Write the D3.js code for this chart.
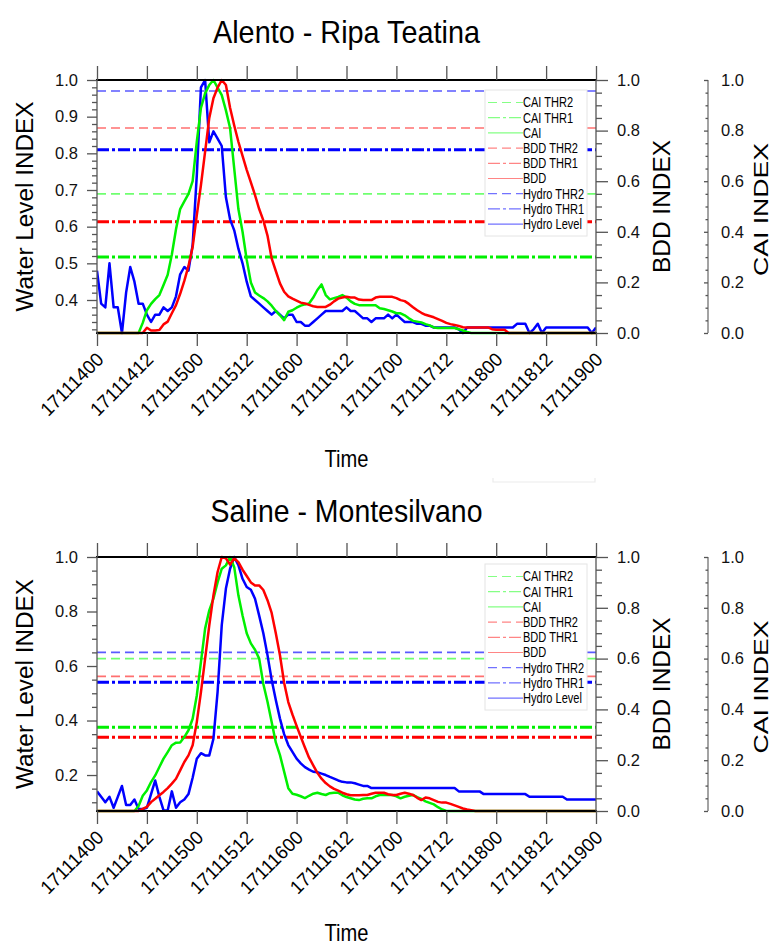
<!DOCTYPE html>
<html><head><meta charset="utf-8">
<script src="https://cdn.jsdelivr.net/npm/d3@7"></script>
<style>html,body{margin:0;padding:0;background:#fff;} svg{display:block;font-family:"Liberation Sans",Arial,Helvetica,sans-serif;}</style>
</head><body><svg id="c" width="772" height="947"></svg>
<script>
// ---------------- DATA ----------------
// hourly samples, hour 0 = 17111400 (YYMMDDHH), hour 120 = 17111900
const hours = d3.range(0, 121);
const xTickHours = [0, 12, 24, 36, 48, 60, 72, 84, 96, 108, 120];
const xTickLabels = ["17111400","17111412","17111500","17111512","17111600","17111612","17111700","17111712","17111800","17111812","17111900"];

const legendLabels = ["CAI THR2","CAI THR1","CAI","BDD THR2","BDD THR1","BDD","Hydro THR2","Hydro THR1","Hydro Level"];

// Alento - Ripa Teatina
const alentoHydro = [
 0.48,0.39,0.38,0.50,0.38,0.38,0.31,0.42,0.49,0.45,
 0.39,0.39,0.36,0.34,0.36,0.36,0.38,0.37,0.38,0.41,
 0.47,0.49,0.48,0.55,0.74,0.98,1.00,0.83,0.86,0.84,
 0.82,0.68,0.62,0.59,0.54,0.50,0.45,0.41,0.40,0.39,
 0.38,0.37,0.36,0.37,0.36,0.35,0.36,0.36,0.34,0.34,
 0.33,0.33,0.34,0.35,0.36,0.37,0.37,0.37,0.37,0.37,
 0.38,0.37,0.37,0.36,0.35,0.35,0.34,0.35,0.35,0.35,
 0.36,0.35,0.36,0.35,0.34,0.34,0.34,0.335,0.335,0.33,
 0.33,0.325,0.325,0.325,0.325,0.325,0.325,0.32,0.31,0.325,
 0.325,0.325,0.325,0.325,0.325,0.325,0.325,0.325,0.325,0.325,
 0.325,0.335,0.335,0.335,0.31,0.32,0.335,0.31,0.325,0.325,
 0.325,0.325,0.325,0.325,0.325,0.325,0.325,0.325,0.325,0.31,
 0.325];
const alentoBDD = [
 0,0,0,0,0,0,0,0,0,0,
 0,0,0.021,0.01,0.01,0.012,0.034,0.045,0.078,0.11,
 0.155,0.206,0.265,0.34,0.466,0.585,0.717,0.85,0.928,0.97,
 1.0,0.98,0.89,0.82,0.756,0.70,0.645,0.595,0.545,0.49,
 0.445,0.385,0.295,0.245,0.196,0.163,0.145,0.136,0.128,0.12,
 0.117,0.111,0.106,0.103,0.103,0.103,0.112,0.125,0.136,0.14,
 0.143,0.14,0.14,0.132,0.13,0.13,0.13,0.14,0.143,0.143,
 0.143,0.143,0.138,0.13,0.126,0.115,0.102,0.09,0.08,0.072,
 0.067,0.062,0.055,0.048,0.04,0.035,0.032,0.028,0.023,0.022,
 0.022,0.022,0.022,0.022,0.022,0.015,0.013,0.013,0.013,0,
 0,0,0,0,0,0,0,0,0,0,
 0,0,0,0,0,0,0,0,0,0,
 0];
const alentoCAI = [
 0,0,0,0,0,0,0,0,0,0,
 0,0.04,0.09,0.115,0.134,0.15,0.19,0.23,0.31,0.41,
 0.49,0.52,0.55,0.60,0.756,0.89,0.947,0.98,1.00,0.97,
 0.94,0.88,0.81,0.65,0.49,0.40,0.29,0.20,0.16,0.148,
 0.138,0.125,0.108,0.087,0.07,0.051,0.084,0.09,0.10,0.108,
 0.113,0.117,0.14,0.17,0.192,0.15,0.133,0.138,0.143,0.15,
 0.14,0.125,0.115,0.11,0.11,0.11,0.11,0.11,0.098,0.095,
 0.09,0.085,0.078,0.078,0.07,0.058,0.048,0.045,0.042,0.035,
 0.03,0.022,0.02,0.02,0.02,0.02,0.02,0.015,0.01,0.004,
 0,0,0,0,0,0,0,0,0,0,
 0,0,0,0,0,0,0,0,0,0,
 0,0,0,0,0,0,0,0,0,0,
 0];
const alentoHydroThr = [0.81, 0.97];  // THR1, THR2 (water level index)
const alentoBDDThr   = [0.44, 0.81];
const alentoCAIThr   = [0.30, 0.55];

// Saline - Montesilvano
const salineHydro = [
 0.14,0.12,0.10,0.12,0.08,0.12,0.16,0.09,0.09,0.11,
 0.075,0.075,0.08,0.13,0.18,0.12,0.07,0.07,0.14,0.08,
 0.10,0.11,0.13,0.19,0.26,0.28,0.272,0.272,0.333,0.505,
 0.75,0.884,0.957,1.0,0.97,0.92,0.89,0.88,0.847,0.785,
 0.72,0.64,0.55,0.475,0.407,0.35,0.31,0.285,0.26,0.243,
 0.229,0.22,0.212,0.21,0.205,0.2,0.193,0.187,0.18,0.175,
 0.173,0.173,0.17,0.165,0.16,0.16,0.152,0.152,0.152,0.152,
 0.152,0.152,0.152,0.152,0.152,0.152,0.152,0.152,0.152,0.152,
 0.152,0.152,0.152,0.152,0.152,0.152,0.152,0.14,0.14,0.14,
 0.14,0.14,0.14,0.13,0.13,0.13,0.13,0.13,0.13,0.13,
 0.13,0.13,0.13,0.13,0.12,0.12,0.12,0.12,0.12,0.12,
 0.12,0.12,0.12,0.11,0.11,0.11,0.11,0.11,0.11,0.11,
 0.11];
const salineBDD = [
 0,0,0,0,0,0,0,0,0,0,
 0,0.008,0.016,0.035,0.048,0.062,0.075,0.09,0.108,0.127,
 0.16,0.193,0.219,0.259,0.35,0.468,0.6,0.731,0.849,0.941,
 1.0,0.995,0.97,0.995,0.98,0.95,0.925,0.9,0.888,0.888,
 0.87,0.83,0.78,0.70,0.613,0.505,0.429,0.38,0.335,0.292,
 0.25,0.21,0.18,0.15,0.127,0.11,0.097,0.087,0.08,0.072,
 0.066,0.062,0.062,0.062,0.063,0.063,0.068,0.072,0.072,0.072,
 0.066,0.063,0.063,0.068,0.072,0.068,0.063,0.052,0.043,0.053,
 0.05,0.043,0.036,0.033,0.033,0.028,0.022,0.016,0.01,0.006,
 0.003,0,0,0,0,0,0,0,0,0,
 0,0,0,0,0,0,0,0,0,0,
 0,0,0,0,0,0,0,0,0,0,
 0];
const salineCAI = [
 0,0,0,0,0,0,0,0,0,0,
 0.02,0.06,0.081,0.114,0.14,0.173,0.206,0.232,0.259,0.269,
 0.27,0.291,0.318,0.363,0.455,0.587,0.718,0.79,0.836,0.90,
 0.954,0.967,1.0,0.96,0.849,0.77,0.70,0.66,0.635,0.60,
 0.50,0.43,0.35,0.27,0.22,0.155,0.09,0.068,0.064,0.058,
 0.051,0.06,0.068,0.072,0.067,0.063,0.07,0.072,0.072,0.062,
 0.055,0.05,0.045,0.043,0.048,0.05,0.05,0.058,0.063,0.063,
 0.063,0.063,0.058,0.05,0.056,0.06,0.063,0.055,0.048,0.038,
 0.032,0.026,0.015,0.006,0,0,0,0,0,0,
 0,0,0,0,0,0,0,0,0,0,
 0,0,0,0,0,0,0,0,0,0,
 0,0,0,0,0,0,0,0,0,0,
 0];
const salineHydroThr = [0.54, 0.65];
const salineBDDThr   = [0.29, 0.53];
const salineCAIThr   = [0.33, 0.60];

// --------------- DRAWING ---------------
const svg = d3.select("#c");
const FONT = '"Liberation Sans",Arial,Helvetica,sans-serif';
const C = {
  blue: "#0000ff", red: "#ff0000", green: "#00f000",
  blueL: "#5a5aff", redL: "#ff7070", greenL: "#70ff70"
};

function panel(cfg, idx) {
  const g = svg.append("g");
  const x = d3.scaleLinear().domain([0, 120]).range([97, 596]);
  const yL = d3.scaleLinear().domain([cfg.yMin, 1]).range([cfg.bottom, cfg.top]);
  const yR = d3.scaleLinear().domain([0, 1]).range([cfg.bottom, cfg.top]);

  const clipId = "clip" + idx;
  g.append("clipPath").attr("id", clipId).append("rect")
    .attr("x", x(0)).attr("y", cfg.top - 2).attr("width", x(120) - x(0)).attr("height", cfg.bottom - cfg.top + 4);

  // title
  g.append("text").attr("x", 346.5).attr("y", cfg.titleY).attr("text-anchor", "middle")
    .attr("font-size", 32).attr("textLength", cfg.titleLen).attr("lengthAdjust", "spacingAndGlyphs")
    .text(cfg.title);

  // thresholds
  const thr = [
    { v: cfg.caiThr[1], s: yR, c: C.greenL, d: "9,5", w: 1.6 },
    { v: cfg.bddThr[1], s: yR, c: C.redL, d: "9,5", w: 1.6 },
    { v: cfg.hydroThr[1], s: yL, c: C.blueL, d: "9,5", w: 1.6 },
    { v: cfg.caiThr[0], s: yR, c: C.green, d: "12,3,3,3", w: 3 },
    { v: cfg.bddThr[0], s: yR, c: C.red, d: "12,3,3,3", w: 3 },
    { v: cfg.hydroThr[0], s: yL, c: C.blue, d: "12,3,3,3", w: 3 }
  ];
  const tg = g.append("g").attr("clip-path", `url(#${clipId})`);
  thr.forEach(t => {
    tg.append("line").attr("x1", x(0)).attr("x2", x(120))
      .attr("y1", t.s(t.v)).attr("y2", t.s(t.v))
      .attr("stroke", t.c).attr("stroke-width", t.w).attr("stroke-dasharray", t.d);
  });

  // data lines
  const series = [
    { data: cfg.hydro, s: yL, c: C.blue },
    { data: cfg.cai, s: yR, c: C.green },
    { data: cfg.bdd, s: yR, c: C.red }
  ];
  series.forEach(sr => {
    const line = d3.line().x((d, i) => x(hours[i])).y(d => sr.s(d));
    tg.append("path").datum(sr.data).attr("d", line)
      .attr("fill", "none").attr("stroke", sr.c).attr("stroke-width", 2.5)
      .attr("stroke-linejoin", "round");
  });

  // legend
  const lg = g.append("g");
  lg.append("rect").attr("x", 485).attr("y", cfg.legendTop).attr("width", 102).attr("height", 146)
    .attr("fill", "#fff").attr("stroke", "#e4e4e4").attr("stroke-width", 1);
  const legStyles = [
    { c: C.greenL, d: "9,5" }, { c: C.greenL, d: "12,3,3,3" }, { c: C.greenL, d: null },
    { c: C.redL, d: "9,5" }, { c: C.redL, d: "12,3,3,3" }, { c: C.redL, d: null },
    { c: C.blueL, d: "9,5" }, { c: C.blueL, d: "12,3,3,3" }, { c: C.blueL, d: null }
  ];
  legendLabels.forEach((lab, i) => {
    const yy = cfg.legendTop + 12.5 + i * 15.2;
    const st = legStyles[i];
    const ln = lg.append("line").attr("x1", 488).attr("x2", 523).attr("y1", yy).attr("y2", yy)
      .attr("stroke", st.c).attr("stroke-width", 1.2).attr("opacity", 0.85);
    if (st.d) ln.attr("stroke-dasharray", st.d);
    const t = lg.append("text").attr("x", 523).attr("y", yy + 4.8).attr("font-size", 13.8)
      .text(lab);
    const w = t.node().getComputedTextLength();
    t.attr("textLength", w * 0.8).attr("lengthAdjust", "spacingAndGlyphs");
  });

  // frame
  g.append("line").attr("x1", x(0) - 1).attr("x2", x(120) + 1).attr("y1", cfg.top).attr("y2", cfg.top)
    .attr("stroke", "#000").attr("stroke-width", 2);
  g.append("line").attr("x1", x(0) - 1).attr("x2", x(120) + 1).attr("y1", cfg.bottom).attr("y2", cfg.bottom)
    .attr("stroke", "#000").attr("stroke-width", 2);
  g.append("line").attr("x1", x(0)).attr("x2", x(0)).attr("y1", cfg.top).attr("y2", cfg.bottom)
    .attr("stroke", "#555").attr("stroke-width", 1.3);
  g.append("line").attr("x1", x(120)).attr("x2", x(120)).attr("y1", cfg.top).attr("y2", cfg.bottom)
    .attr("stroke", "#555").attr("stroke-width", 1.3);

  function styleAxis(sel, labelSize) {
    sel.select(".domain").remove();
    sel.selectAll(".tick line").attr("stroke", "#555").attr("stroke-width", 1.3);
    sel.selectAll(".tick text").attr("font-size", labelSize).attr("fill", "#111").attr("font-family", FONT);
  }

  // x axes (bottom & top)
  const xb = g.append("g").attr("transform", `translate(0,${cfg.bottom})`)
    .call(d3.axisBottom(x).tickValues(xTickHours).tickSize(13).tickFormat(""));
  styleAxis(xb, 16);
  const xt = g.append("g").attr("transform", `translate(0,${cfg.top})`)
    .call(d3.axisTop(x).tickValues(xTickHours).tickSize(14).tickFormat(""));
  styleAxis(xt, 16);
  xTickHours.forEach((h, i) => {
    const px = x(h) + 3, py = cfg.bottom + 23;
    g.append("text").attr("transform", `translate(${px},${py}) rotate(-45)`)
      .attr("text-anchor", "end").attr("dy", "0.35em").attr("font-size", 19)
      .attr("textLength", 80).attr("lengthAdjust", "spacingAndGlyphs")
      .text(xTickLabels[i]);
  });
  g.append("text").attr("x", 346.5).attr("y", cfg.timeY).attr("text-anchor", "middle")
    .attr("font-size", 24).attr("textLength", 44).attr("lengthAdjust", "spacingAndGlyphs").text("Time");

  // left axis
  const la = g.append("g").attr("transform", `translate(${x(0)},0)`)
    .call(d3.axisLeft(yL).tickValues(cfg.leftMajor).tickSize(10).tickPadding(9).tickFormat(d3.format(".1f")));
  styleAxis(la, 16.5);
  const lam = g.append("g").attr("transform", `translate(${x(0)},0)`)
    .call(d3.axisLeft(yL).tickValues(cfg.leftMinor).tickSize(5).tickFormat(""));
  styleAxis(lam, 12);
  g.append("text").attr("transform", `translate(33,${(cfg.top + cfg.bottom) / 2}) rotate(-90)`)
    .attr("text-anchor", "middle").attr("font-size", 23).attr("textLength", 210)
    .attr("lengthAdjust", "spacingAndGlyphs").text("Water Level INDEX");

  // BDD right axis
  const ra = g.append("g").attr("transform", `translate(${x(120)},0)`)
    .call(d3.axisRight(yR).tickValues(cfg.rightMajor).tickSize(12).tickPadding(9).tickFormat(d3.format(".1f")));
  styleAxis(ra, 16.5);
  const ram = g.append("g").attr("transform", `translate(${x(120)},0)`)
    .call(d3.axisRight(yR).tickValues(cfg.rightMinor).tickSize(6).tickFormat(""));
  styleAxis(ram, 12);
  g.append("text").attr("transform", `translate(670,${(cfg.top + cfg.bottom) / 2}) rotate(-90)`)
    .attr("text-anchor", "middle").attr("font-size", 23).attr("textLength", 133)
    .attr("lengthAdjust", "spacingAndGlyphs").text("BDD INDEX");

  // CAI third axis
  const cx = 708;
  g.append("line").attr("x1", cx).attr("x2", cx).attr("y1", yR(1)).attr("y2", yR(0))
    .attr("stroke", "#666").attr("stroke-width", 1.2);
  const ca = g.append("g").attr("transform", `translate(${cx},0)`)
    .call(d3.axisRight(yR).tickValues(cfg.rightMajor).tickSize(-4).tickPadding(13).tickFormat(d3.format(".1f")));
  styleAxis(ca, 16.5);
  const cam = g.append("g").attr("transform", `translate(${cx},0)`)
    .call(d3.axisRight(yR).tickValues(cfg.rightMinor).tickSize(-2.5).tickFormat(""));
  styleAxis(cam, 12);
  g.append("text").attr("transform", `translate(768,${(cfg.top + cfg.bottom) / 2 + 3}) rotate(-90)`)
    .attr("text-anchor", "middle").attr("font-size", 21).attr("textLength", 133)
    .attr("lengthAdjust", "spacingAndGlyphs").text("CAI INDEX");
}

const major02 = [0, 0.2, 0.4, 0.6, 0.8, 1.0];
const minor005 = d3.range(0.05, 1.0, 0.05).filter(v => Math.abs(v / 0.2 - Math.round(v / 0.2)) > 1e-6);

panel({
  title: "Alento - Ripa Teatina", titleY: 43, titleLen: 267, timeY: 467,
  top: 80, bottom: 333, yMin: 0.31, legendTop: 90,
  leftMajor: [0.4, 0.5, 0.6, 0.7, 0.8, 0.9, 1.0],
  leftMinor: d3.range(0.32, 1.0, 0.02).filter(v => Math.abs(v * 10 - Math.round(v * 10)) > 1e-6),
  rightMajor: major02, rightMinor: minor005,
  hydro: alentoHydro, bdd: alentoBDD, cai: alentoCAI,
  hydroThr: alentoHydroThr, bddThr: alentoBDDThr, caiThr: alentoCAIThr
}, 0);

panel({
  title: "Saline - Montesilvano", titleY: 522, titleLen: 272, timeY: 941,
  top: 557, bottom: 811, yMin: 0.068, legendTop: 564,
  leftMajor: [0.2, 0.4, 0.6, 0.8, 1.0],
  leftMinor: d3.range(0.1, 1.0, 0.05).filter(v => Math.abs(v / 0.2 - Math.round(v / 0.2)) > 1e-6),
  rightMajor: major02, rightMinor: minor005,
  hydro: salineHydro, bdd: salineBDD, cai: salineCAI,
  hydroThr: salineHydroThr, bddThr: salineBDDThr, caiThr: salineCAIThr
}, 1);

// faint stray frame fragment between panels
svg.append("path").attr("d", "M493,478 L493,482 L595,482 L595,478")
  .attr("fill", "none").attr("stroke", "#ececec").attr("stroke-width", 1.2);
</script></body></html>
